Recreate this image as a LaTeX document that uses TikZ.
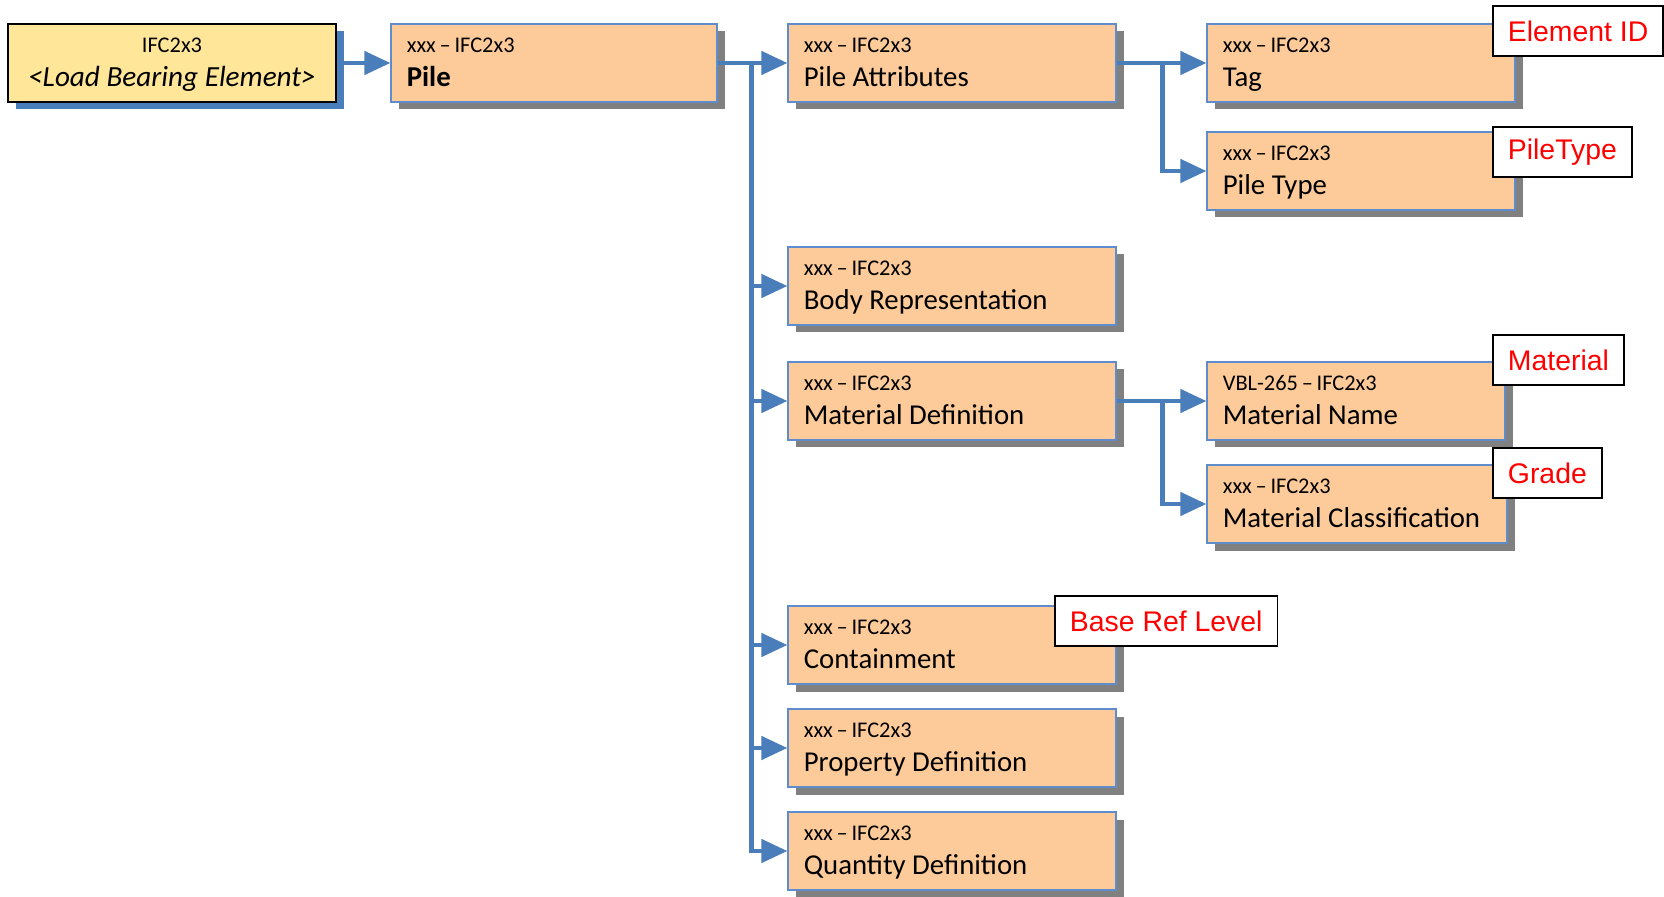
\documentclass[tikz,border=0pt]{standalone}
\usepackage{fontspec}
\setmainfont{Carlito}
\newfontfamily\labelfont{Liberation Sans}
\usetikzlibrary{arrows.meta,shadows,fit}

\definecolor{connblue}{RGB}{74,126,187}
\definecolor{boxfill}{RGB}{253,203,153}
\definecolor{boxline}{RGB}{95,140,205}
\definecolor{rootfill}{RGB}{255,230,153}
\definecolor{shadegray}{RGB}{128,128,128}
\definecolor{tagred}{RGB}{255,0,0}

\tikzset{
  obox/.style={draw=boxline, line width=0.6pt, fill=boxfill, inner sep=0pt,
    drop shadow={shadow xshift=3.75pt, shadow yshift=-3.75pt, opacity=1, fill=shadegray}},
  rootbox/.style={draw=black, line width=0.75pt, fill=rootfill, inner sep=0pt,
    drop shadow={shadow xshift=3.75pt, shadow yshift=-3.75pt, opacity=1, fill=connblue}},
  smalltxt/.style={anchor=base west, inner sep=0pt, font=\fontsize{11.2}{13}\selectfont},
  maintxt/.style={anchor=base west, inner sep=0pt, font=\fontsize{14.4}{17}\selectfont},
  conn/.style={draw=connblue, line width=2.25pt, -{Triangle[length=13pt, width=11.5pt]}},
  tagbox/.style={draw=black, line width=0.9pt, fill=white, anchor=north west,
    inner xsep=7.5pt, inner ysep=0pt, minimum height=25pt,
    text=tagred, font=\labelfont\fontsize{14.2}{17}\selectfont},
}

% #1 name, #2 left, #3 top, #4 right, #5 upper line, #6 lower line
\newcommand\ifcitem[6]{%
  \node[obox, fit={(#2,#3) (#4,#3+78)}] (#1) {};
  \node[smalltxt] (#1-a) at ([shift={(16,29)}]#1.north west) {#5};
  \node[maintxt] (#1-b) at ([shift={(16,63)}]#1.north west) {#6};
}

\begin{document}
\begin{tikzpicture}[x=0.5pt, y=-0.5pt]
\useasboundingbox (0,0) rectangle (1664,897);

% root element
\node[rootbox, fit={(8,24) (336,102)}] (root) {};
\node[anchor=base, inner sep=0pt, font=\fontsize{11.2}{13}\selectfont] (root-a)
  at ([shift={(0,29)}]root.north) {IFC2x3};
\node[anchor=base, inner sep=0pt, font=\fontsize{14.6}{17}\selectfont\itshape] (root-b)
  at ([shift={(0,63)}]root.north) {<Load Bearing Element>};

% pile
\ifcitem{pile}{391}{24}{717}{xxx\,–\,IFC2x3}{\textbf{Pile}}

% second column
\ifcitem{attr}{788}{24}{1116}{xxx\,–\,IFC2x3}{Pile Attributes}
\ifcitem{body}{788}{247}{1116}{xxx\,–\,IFC2x3}{Body Representation}
\ifcitem{matdef}{788}{362}{1116}{xxx\,–\,IFC2x3}{Material Definition}
\ifcitem{contain}{788}{606}{1116}{xxx\,–\,IFC2x3}{Containment}
\ifcitem{prop}{788}{709}{1116}{xxx\,–\,IFC2x3}{Property Definition}
\ifcitem{qty}{788}{812}{1116}{xxx\,–\,IFC2x3}{Quantity Definition}

% third column
\ifcitem{tag}{1207}{24}{1515}{xxx\,–\,IFC2x3}{Tag}
\ifcitem{ptype}{1207}{132}{1515}{xxx\,–\,IFC2x3}{Pile Type}
\ifcitem{matname}{1207}{362}{1505}{VBL-265\,–\,IFC2x3}{Material Name}
\ifcitem{matclass}{1207}{465}{1507}{xxx\,–\,IFC2x3}{Material Classification}

% connectors
\draw[conn] (root.east) -- (pile.west);
\draw[conn] (pile.east) -- (attr.west);
\foreach \t in {body,matdef,contain,prop,qty}
  \draw[conn] (pile.east) -- ++(34,0) |- (\t.west);
\draw[conn] (attr.east) -- (tag.west);
\draw[conn] (attr.east) -- ++(46,0) |- (ptype.west);
\draw[conn] (matdef.east) -- (matname.west);
\draw[conn] (matdef.east) -- ++(46,0) |- (matclass.west);

% property labels
\node[tagbox] (lbl-id) at (1492,5) {Element ID};
\node[tagbox] (lbl-type) at (1492,126) {PileType};
\node[tagbox] (lbl-mat) at (1492,334) {Material};
\node[tagbox] (lbl-grade) at (1492,447) {Grade};
\node[tagbox] (lbl-base) at (1054,595) {Base Ref Level};
\end{tikzpicture}
\end{document}
